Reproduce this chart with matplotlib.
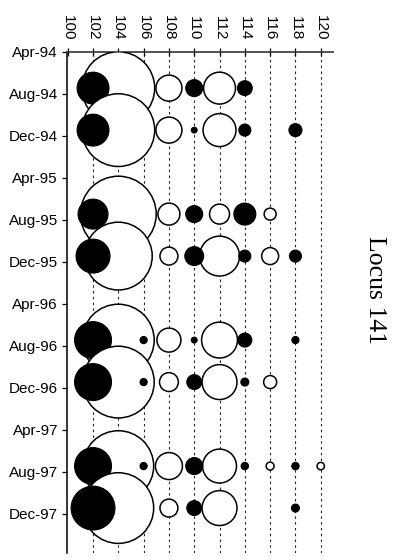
import numpy as np
import matplotlib
matplotlib.use("Agg")
import matplotlib.pyplot as plt

# ---- data ----
months = ['Apr-94', 'Aug-94', 'Dec-94', 'Apr-95', 'Aug-95', 'Dec-95',
          'Apr-96', 'Aug-96', 'Dec-96', 'Apr-97', 'Aug-97', 'Dec-97']
alleles = [102, 104, 106, 108, 110, 112, 114, 116, 118, 120]
x_ticks = [100, 102, 104, 106, 108, 110, 112, 114, 116, 118, 120]
sample_months = ['Aug-94', 'Dec-94', 'Aug-95', 'Dec-95',
                 'Aug-96', 'Dec-96', 'Aug-97', 'Dec-97']
# allele frequencies per sample (order of `alleles`)
aug94 = [0.120, 0.625, 0.000, 0.080, 0.034, 0.120, 0.026, 0.000, 0.000, 0.000]
dec94 = [0.120, 0.625, 0.000, 0.080, 0.004, 0.128, 0.017, 0.000, 0.020, 0.000]
aug95 = [0.106, 0.678, 0.000, 0.057, 0.034, 0.047, 0.057, 0.017, 0.000, 0.000]
dec95 = [0.136, 0.543, 0.000, 0.038, 0.042, 0.188, 0.017, 0.034, 0.017, 0.000]
aug96 = [0.161, 0.608, 0.006, 0.068, 0.004, 0.152, 0.023, 0.000, 0.006, 0.000]
dec96 = [0.161, 0.608, 0.006, 0.042, 0.026, 0.144, 0.0075, 0.020, 0.000, 0.000]
aug97 = [0.161, 0.590, 0.006, 0.086, 0.034, 0.136, 0.0064, 0.0075, 0.0064, 0.0064]
dec97 = [0.227, 0.590, 0.000, 0.038, 0.026, 0.144, 0.000, 0.000, 0.0075, 0.000]
samples = [aug94, dec94, aug95, dec95, aug96, dec96, aug97, dec97]
filled_alleles = [102, 106, 110, 114, 118]

# ---- style ----
W, H, DPI = 399, 560, 100
R_FULL_PX = 46.0          # bubble radius (px) for frequency 1
Y_OFFSET = -0.14          # sampling point slightly before month tick
SANS = ['Liberation Sans', 'DejaVu Sans']
SERIF = ['Liberation Serif', 'DejaVu Serif']

fig = plt.figure(figsize=(W / DPI, H / DPI), dpi=DPI)
ax = fig.add_axes([67.1 / W, 1 - 553 / H, (333 - 67.1) / W, (553 - 52) / H])

xlim = (99.95, 120.97)
ax.set_xlim(*xlim)
ax.set_ylim(11.93, 0)

# dashed vertical grid lines
for xv in x_ticks[1:]:
    ax.axvline(xv, color='#222222', lw=0.8, ls=(0, (2.2, 3.0)), zorder=1)

month_idx = {m: i for i, m in enumerate(months)}
for k, (m, freqs) in enumerate(zip(sample_months, samples)):
    y = month_idx[m] + Y_OFFSET
    f = np.array(freqs)
    a = np.array(alleles)
    is_filled = np.isin(a, filled_alleles)
    mask = f > 0
    r_pt = R_FULL_PX * np.sqrt(f) * 72.0 / DPI
    s = (2 * r_pt) ** 2
    z = 3 + 2 * k
    om = mask & ~is_filled
    ax.scatter(a[om], np.full(om.sum(), y), s=s[om], facecolor='white',
               edgecolor='black', linewidth=1.1, zorder=z)
    fm = mask & is_filled
    ax.scatter(a[fm], np.full(fm.sum(), y), s=s[fm], facecolor='black',
               edgecolor='black', linewidth=0.8, zorder=z + 1)

# axes styling
ax.xaxis.tick_top()
ax.set_xticks(x_ticks)
ax.set_xticklabels([str(v) for v in x_ticks], rotation=270,
                   fontsize=11, family=SANS)
ax.tick_params(axis='x', direction='inout', length=6, width=0.9, pad=5.5,
               top=True, bottom=False, colors='black')
ax.set_yticks(range(len(months)))
ax.set_yticklabels(months, fontsize=11, family=SANS)
ax.tick_params(axis='y', direction='out', length=3.5, width=0.9, pad=3)

for side in ['right', 'bottom']:
    ax.spines[side].set_visible(False)
ax.spines['left'].set_linewidth(1.1)
ax.spines['top'].set_linewidth(1.2)
ax.spines['top'].set_color('#333333')
ax.set_facecolor('none')

fig.text(375 / W, 1 - 289.5 / H, 'Locus 141', rotation=270,
         ha='center', va='center', fontsize=18.5, family=SERIF)

fig.savefig('out.png', dpi=DPI)
